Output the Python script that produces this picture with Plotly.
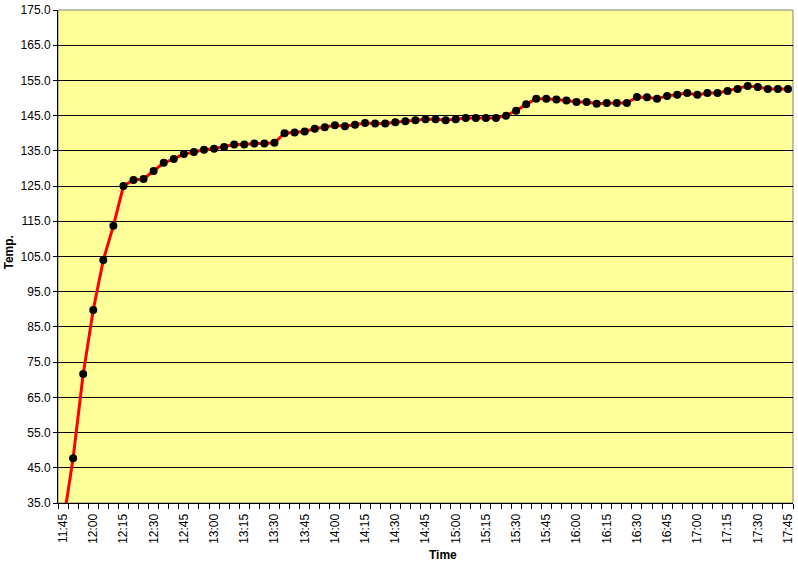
import plotly.graph_objects as go

times = ["11:45", "11:50", "11:55", "12:00", "12:05", "12:10", "12:15", "12:20", "12:25", "12:30",
         "12:35", "12:40", "12:45", "12:50", "12:55", "13:00", "13:05", "13:10", "13:15", "13:20",
         "13:25", "13:30", "13:35", "13:40", "13:45", "13:50", "13:55", "14:00", "14:05", "14:10",
         "14:15", "14:20", "14:25", "14:30", "14:35", "14:40", "14:45", "14:50", "14:55", "15:00",
         "15:05", "15:10", "15:15", "15:20", "15:25", "15:30", "15:35", "15:40", "15:45", "15:50",
         "15:55", "16:00", "16:05", "16:10", "16:15", "16:20", "16:25", "16:30", "16:35", "16:40",
         "16:45", "16:50", "16:55", "17:00", "17:05", "17:10", "17:15", "17:20", "17:25", "17:30",
         "17:35", "17:40", "17:45"]

temps = [29.0, 47.7, 71.6, 89.8, 104.0, 113.7, 125.0, 126.7, 127.0, 129.3,
         131.6, 132.7, 134.1, 134.7, 135.3, 135.6, 136.1, 136.8, 136.8, 137.1,
         137.1, 137.3, 140.0, 140.2, 140.5, 141.3, 141.7, 142.3, 142.0, 142.4,
         142.9, 142.8, 142.8, 143.1, 143.4, 143.7, 144.0, 144.0, 143.7, 144.0,
         144.3, 144.3, 144.3, 144.3, 145.0, 146.4, 148.2, 149.8, 149.8, 149.6,
         149.3, 148.9, 148.9, 148.4, 148.6, 148.6, 148.6, 150.3, 150.2, 149.8,
         150.6, 150.9, 151.4, 150.9, 151.4, 151.4, 152.0, 152.6, 153.4, 153.1,
         152.6, 152.6, 152.6]

label_every = 3
x_idx = list(range(len(times)))

font = "Liberation Sans, Arial, sans-serif"

fig = go.Figure()
fig.add_trace(go.Scatter(
    x=x_idx, y=temps, mode="lines+markers",
    line=dict(color="#FF0000", width=3),
    marker=dict(color="#000000", size=8),
    showlegend=False,
))

fig.update_layout(
    width=798, height=563,
    margin=dict(l=58, r=5, t=10, b=60, autoexpand=False),
    paper_bgcolor="white",
    plot_bgcolor="#FFFF99",
    font=dict(family=font, size=12, color="black"),
    shapes=[dict(type="rect", xref="paper", yref="paper", x0=0, y0=0, x1=1, y1=1,
                 line=dict(color="#808080", width=1), fillcolor="rgba(0,0,0,0)", layer="below")],
    annotations=[
        dict(text="<b>Time</b>", xref="paper", yref="paper", x=0.524, y=-0.1055,
             xanchor="center", yanchor="middle", showarrow=False, font=dict(size=12)),
        dict(text="<b>Temp.</b>", xref="paper", yref="paper", x=-0.066, y=0.509,
             xanchor="center", yanchor="middle", showarrow=False, textangle=-90, font=dict(size=12)),
    ],
)

fig.update_xaxes(
    range=[-0.5, len(times) - 0.5],
    automargin=False,
    tickmode="array",
    tickvals=x_idx[::label_every],
    ticktext=times[::label_every],
    tickangle=-90,
    ticks="",
    ticklabelstandoff=5,
    showgrid=False,
    showline=True, linecolor="black", linewidth=1,
    minor=dict(ticks="outside", tick0=-0.5, dtick=1, ticklen=5, tickcolor="black", tickwidth=1, showgrid=False),
    zeroline=False,
    tickfont=dict(size=12),
)

fig.update_yaxes(
    range=[35, 175],
    automargin=False,
    tick0=35, dtick=10,
    tickformat=".1f",
    showgrid=True, gridcolor="black", gridwidth=1,
    ticks="outside", ticklen=4, tickcolor="black",
    showline=True, linecolor="black", linewidth=1,
    zeroline=False,
    tickfont=dict(size=12),
)

fig.write_html("out.html", config={"displayModeBar": False},
               post_script="document.body.style.margin='0';document.body.style.overflow='hidden';")
